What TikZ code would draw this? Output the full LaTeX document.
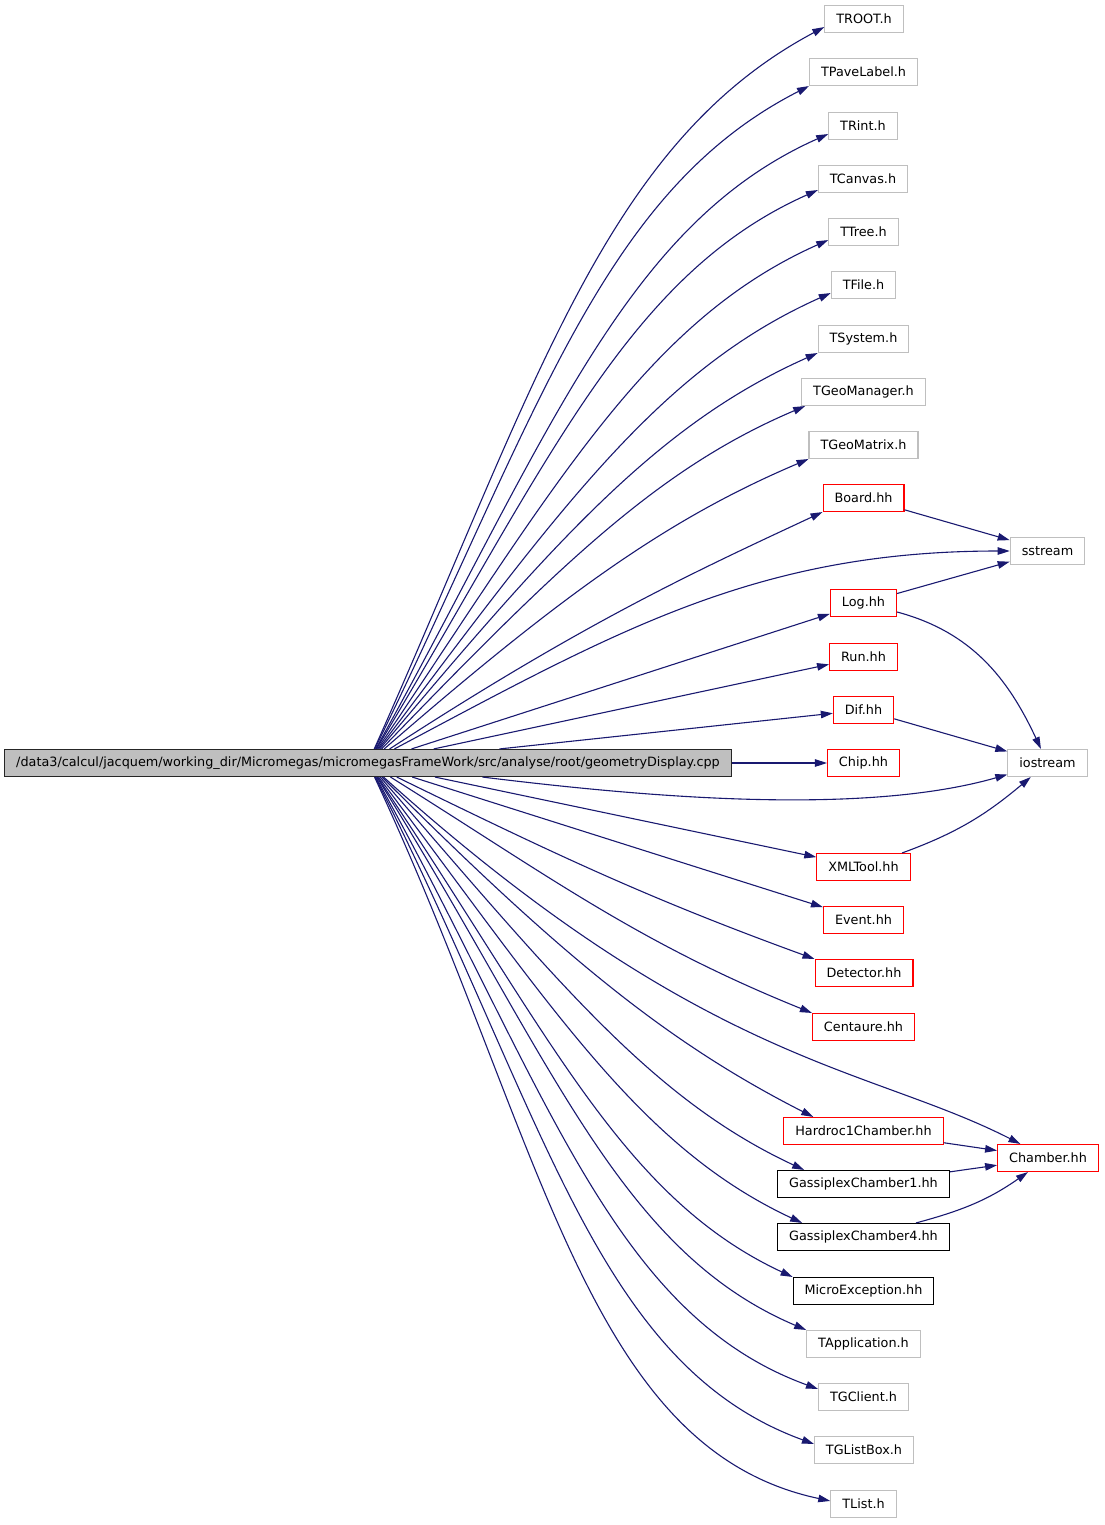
\documentclass[tikz,border=0pt]{standalone}
\usepackage{fontspec}
\setmainfont{DejaVu Sans}
\usetikzlibrary{arrows.meta}
\definecolor{edgeblue}{HTML}{191970}
\definecolor{sysgray}{HTML}{BFBFBF}
\definecolor{mainfill}{HTML}{BFBFBF}

\begin{document}
\begin{tikzpicture}[
    x=1pt, y=1pt,
    box/.style={rectangle, font=\fontsize{12.8}{15}\selectfont, inner xsep=11.5pt, inner ysep=0pt, minimum height=27pt, line width=1.1pt},
    mainbox/.style={box, draw=black!85, fill=mainfill},
    sysbox/.style={box, draw=sysgray},
    localbox/.style={box, draw=red},
    plainbox/.style={box, draw=black},
    arrow/.style={-{Triangle[length=12pt, width=7.5pt]}, draw=edgeblue, line width=1.1pt},
    fan/.style={out looseness=1.2, in looseness=0.75}
]

\useasboundingbox (0,0) rectangle (1104,-1525);

% The file whose includes are shown
\node[mainbox] (main) at (368,-763) {/data3/calcul/jacquem/working\_dir/Micromegas/micromegasFrameWork/src/analyse/root/geometryDisplay.cpp};

% Direct includes, upper half
\node[sysbox] (troot) at (864,-19) {TROOT.h};
\node[sysbox] (tpavelabel) at (863.5,-72) {TPaveLabel.h};
\node[sysbox] (trint) at (863,-126) {TRint.h};
\node[sysbox] (tcanvas) at (863,-179) {TCanvas.h};
\node[sysbox] (ttree) at (863.5,-232) {TTree.h};
\node[sysbox] (tfile) at (863.5,-285) {TFile.h};
\node[sysbox] (tsystem) at (863.5,-339) {TSystem.h};
\node[sysbox] (tgeomanager) at (863.5,-392) {TGeoManager.h};
\node[sysbox] (tgeomatrix) at (863.5,-445) {TGeoMatrix.h};
\node[localbox] (board) at (863.5,-498) {Board.hh};
\node[localbox] (log) at (863.5,-603) {Log.hh};
\node[localbox] (run) at (863.5,-657) {Run.hh};
\node[localbox] (dif) at (863.5,-710) {Dif.hh};
\node[localbox] (chip) at (863.5,-763) {Chip.hh};

% Direct includes, lower half
\node[localbox] (xmltool) at (863.5,-867) {XMLTool.hh};
\node[localbox] (event) at (863.5,-920) {Event.hh};
\node[localbox] (detector) at (864,-973) {Detector.hh};
\node[localbox] (centaure) at (863.5,-1027) {Centaure.hh};
\node[localbox] (hardroc) at (863.5,-1131) {Hardroc1Chamber.hh};
\node[plainbox] (gassiplexa) at (863.5,-1184) {GassiplexChamber1.hh};
\node[plainbox] (gassiplexb) at (863.5,-1237) {GassiplexChamber4.hh};
\node[plainbox] (microexc) at (863.5,-1291) {MicroException.hh};
\node[sysbox] (tapplication) at (863.5,-1344) {TApplication.h};
\node[sysbox] (tgclient) at (863.5,-1397) {TGClient.h};
\node[sysbox] (tglistbox) at (864,-1450) {TGListBox.h};
\node[sysbox] (tlist) at (863.5,-1504) {TList.h};

% Second level
\node[sysbox] (sstream) at (1047.5,-551) {sstream};
\node[sysbox] (iostream) at (1047.5,-763) {iostream};
\node[localbox] (chamber) at (1048,-1158) {Chamber.hh};

% Edges from the main file, upper fan
\draw[arrow, fan] (main) to[out=66, in=208] ([yshift=6pt]troot.south west);
\draw[arrow, fan] (main) to[out=64, in=207] (tpavelabel.south west);
\draw[arrow, fan] (main) to[out=61, in=204] ([yshift=6pt]trint.south west);
\draw[arrow, fan] (main) to[out=59, in=204] ([yshift=3pt]tcanvas.south west);
\draw[arrow, fan] (main) to[out=56, in=204] ([yshift=6pt]ttree.south west);
\draw[arrow, fan] (main) to[out=53, in=204] ([yshift=6pt]tfile.south west);
\draw[arrow, fan] (main) to[out=50, in=204] (tsystem.south west);
\draw[arrow, fan] (main) to[out=46, in=203] ([xshift=4pt]tgeomanager.south west);
\draw[arrow, fan] (main) to[out=41, in=203] (tgeomatrix.south west);
\draw[arrow, fan] (main) to[out=33, in=205] (board.south west);
\draw[arrow] (main) to[out=28, in=180] (sstream);
\draw[arrow] (main) -- (log);
\draw[arrow] (main) -- (run);
\draw[arrow] (main) -- (dif);
\draw[arrow] (main) -- (chip);

% Edges from the main file, lower fan
\draw[arrow, looseness=0.75] (main) to[out=-7, in=196] (iostream);
\draw[arrow] (main) -- (xmltool);
\draw[arrow] (main) -- (event);
\draw[arrow] (main) to[out=-26, in=160] (detector.north west);
\draw[arrow] (main) to[out=-32, in=158] (centaure.north west);
\draw[arrow, out looseness=1.5, in looseness=0.6] (main) to[out=-42, in=153] (chamber);
\draw[arrow, fan] (main) to[out=-45, in=153] ([xshift=30pt]hardroc.north west);
\draw[arrow, fan] (main) to[out=-49, in=155] ([xshift=27pt]gassiplexa.north west);
\draw[arrow, fan] (main) to[out=-53, in=155] ([xshift=25pt]gassiplexb.north west);
\draw[arrow, fan] (main) to[out=-56, in=155] (microexc.north west);
\draw[arrow, fan] (main) to[out=-58, in=157] (tapplication.north west);
\draw[arrow, fan] (main) to[out=-61, in=160] ([yshift=-6pt]tgclient.north west);
\draw[arrow, fan] (main) to[out=-63, in=160] ([yshift=-8pt]tglistbox.north west);
\draw[arrow, fan] (main) to[out=-65, in=168] ([yshift=-11pt]tlist.north west);

% Second level edges
\draw[arrow] (board) -- (sstream);
\draw[arrow] (log) -- (sstream);
\draw[arrow] (log) to[out=-15, in=115] (iostream);
\draw[arrow] (dif) -- (iostream);
\draw[arrow] (xmltool) to[out=20, in=220] (iostream);
\draw[arrow] (hardroc) -- (chamber);
\draw[arrow] (gassiplexa) -- (chamber);
\draw[arrow] (gassiplexb) to[out=15, in=215] (chamber);

\end{tikzpicture}
\end{document}
